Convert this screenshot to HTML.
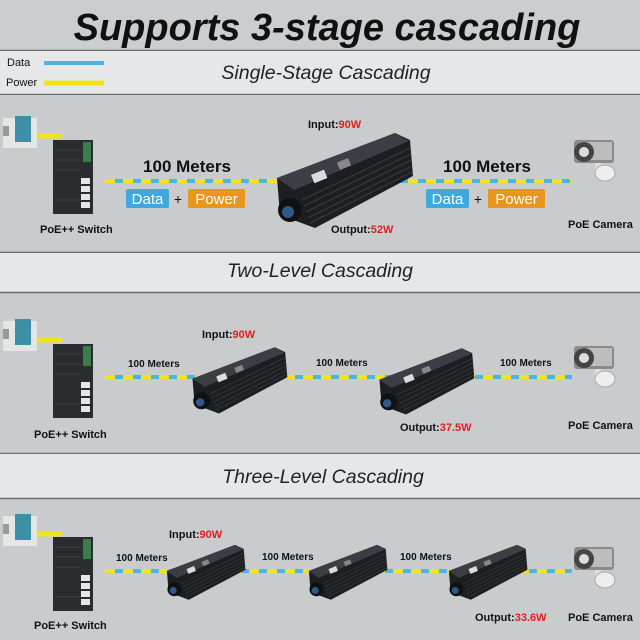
<!DOCTYPE html>
<html><head><meta charset="utf-8"><style>
html,body{margin:0;padding:0;width:640px;height:640px;overflow:hidden;background:#c9cbcd}
svg{display:block}
</style></head><body>
<svg width="640" height="640" viewBox="0 0 640 640" xmlns="http://www.w3.org/2000/svg" font-family="Liberation Sans, sans-serif">
<defs>
<symbol id="dev" viewBox="0 0 142 100">
  <polygon points="5,48 123,3 138,10 141,46 43,98 8,85" fill="#1c1e22"/>
  <polygon points="5,48 123,3 137,11 22,60" fill="#3b3e44"/>
  <g stroke="#34373c" stroke-width="1.3">
    <line x1="30" y1="70" x2="138" y2="18"/><line x1="32" y1="76" x2="139" y2="24"/>
    <line x1="34" y1="82" x2="139" y2="30"/><line x1="36" y1="88" x2="140" y2="36"/>
    <line x1="38" y1="93" x2="140" y2="42"/>
  </g>
  <rect x="40" y="42" width="14" height="9" fill="#dcdcdc" transform="rotate(-22 47 46)"/>
  <rect x="66" y="30" width="12" height="8" fill="#888" transform="rotate(-22 72 34)"/>
  <circle cx="18" cy="80" r="12" fill="#111"/>
  <circle cx="16" cy="82" r="6" fill="#2d5a8a"/>
</symbol>
<symbol id="sw" viewBox="0 0 42 74">
  <rect x="0" y="0" width="40" height="74" fill="#2a2c2f"/>
  <rect x="30" y="2" width="8" height="20" fill="#3a7d4a"/>
  <g stroke="#3e4145" stroke-width="1"><line x1="2" y1="10" x2="28" y2="10"/><line x1="2" y1="20" x2="28" y2="20"/><line x1="2" y1="30" x2="28" y2="30"/><line x1="2" y1="60" x2="28" y2="60"/></g>
  <g fill="#e6e6e6"><rect x="28" y="38" width="9" height="6"/><rect x="28" y="46" width="9" height="6"/><rect x="28" y="54" width="9" height="6"/><rect x="28" y="62" width="9" height="6"/></g>
</symbol>
<symbol id="ps" viewBox="0 0 34 38">
  <rect x="0" y="6" width="34" height="30" fill="#e4e6e6"/>
  <rect x="12" y="4" width="16" height="26" fill="#3d8fa8"/>
  <rect x="0" y="14" width="6" height="10" fill="#999"/>
</symbol>
<symbol id="cam" viewBox="0 0 50 45">
  <rect x="25" y="20" width="6" height="16" fill="#ddd"/>
  <ellipse cx="35" cy="35" rx="10" ry="8" fill="#eee" stroke="#aaa"/>
  <rect x="4" y="2" width="40" height="23" rx="3" fill="#8a8a8a"/>
  <rect x="10" y="4" width="32" height="18" fill="#bdbdbd"/>
  <circle cx="14" cy="14" r="10" fill="#444"/><circle cx="14" cy="14" r="5" fill="#ddd"/>
</symbol>
</defs>

<rect x="0" y="0" width="640" height="50" fill="#cbcdcf"/>
<line x1="0" y1="50.5" x2="640" y2="50.5" stroke="#6a6c6e" stroke-width="1.5"/>
<rect x="0" y="51" width="640" height="43" fill="#e5e7e9"/>
<line x1="0" y1="94.5" x2="640" y2="94.5" stroke="#6a6c6e" stroke-width="1.5"/>
<rect x="0" y="95" width="640" height="157" fill="#c9cbcd"/>
<line x1="0" y1="252.5" x2="640" y2="252.5" stroke="#6a6c6e" stroke-width="1.5"/>
<rect x="0" y="253" width="640" height="39" fill="#e5e7e9"/>
<line x1="0" y1="292.5" x2="640" y2="292.5" stroke="#6a6c6e" stroke-width="1.5"/>
<line x1="0" y1="453.5" x2="640" y2="453.5" stroke="#6a6c6e" stroke-width="1.5"/>
<rect x="0" y="454" width="640" height="44" fill="#e5e7e9"/>
<line x1="0" y1="498.5" x2="640" y2="498.5" stroke="#6a6c6e" stroke-width="1.5"/>

<text x="327" y="40" font-size="38" font-weight="bold" font-style="italic" text-anchor="middle" fill="#111">Supports 3-stage cascading</text>
<text x="7" y="66" font-size="11" fill="#111">Data</text>
<line x1="44" y1="63" x2="104" y2="63" stroke="#4cb4e6" stroke-width="4"/>
<text x="6" y="86" font-size="11" fill="#111">Power</text>
<line x1="44" y1="83" x2="104" y2="83" stroke="#f2e41c" stroke-width="5"/>
<text x="326" y="79" font-size="19.5" font-style="italic" text-anchor="middle" fill="#222">Single-Stage Cascading</text>
<text x="320" y="277" font-size="19.5" font-style="italic" text-anchor="middle" fill="#222">Two-Level Cascading</text>
<text x="323" y="483" font-size="19.5" font-style="italic" text-anchor="middle" fill="#222">Three-Level Cascading</text>

<g stroke-width="4">
  <line x1="105" y1="181" x2="280" y2="181" stroke="#4cb4e6"/>
  <line x1="105" y1="181" x2="280" y2="181" stroke="#f2e41c" stroke-dasharray="10 8"/>
  <line x1="390" y1="181" x2="572" y2="181" stroke="#4cb4e6"/>
  <line x1="390" y1="181" x2="572" y2="181" stroke="#f2e41c" stroke-dasharray="10 8"/>
  <line x1="105" y1="377" x2="572" y2="377" stroke="#4cb4e6"/>
  <line x1="105" y1="377" x2="572" y2="377" stroke="#f2e41c" stroke-dasharray="10 8"/>
  <line x1="105" y1="571" x2="572" y2="571" stroke="#4cb4e6"/>
  <line x1="105" y1="571" x2="572" y2="571" stroke="#f2e41c" stroke-dasharray="10 8"/>
  <line x1="35" y1="136" x2="62" y2="136" stroke="#f2e41c" stroke-width="5"/>
  <line x1="35" y1="340" x2="62" y2="340" stroke="#f2e41c" stroke-width="5"/>
  <line x1="35" y1="534" x2="62" y2="534" stroke="#f2e41c" stroke-width="5"/>
</g>

<use href="#ps" x="3" y="112" width="34" height="38"/>
<use href="#sw" x="53" y="140" width="42" height="74"/>
<use href="#dev" x="272" y="130" width="142" height="100"/>
<use href="#cam" x="570" y="138" width="50" height="45"/>
<text x="187" y="172" font-size="17" font-weight="bold" text-anchor="middle" fill="#111">100 Meters</text>
<text x="487" y="172" font-size="17" font-weight="bold" text-anchor="middle" fill="#111">100 Meters</text>
<rect x="126" y="189" width="43" height="19" rx="2" fill="#3fa9dd"/><text x="147.5" y="204" font-size="15" text-anchor="middle" fill="#fff">Data</text>
<text x="178" y="204" font-size="14" text-anchor="middle" fill="#111">+</text>
<rect x="188" y="189" width="57" height="19" rx="2" fill="#e8961e"/><text x="216.5" y="204" font-size="15" text-anchor="middle" fill="#fff">Power</text>
<rect x="426" y="189" width="43" height="19" rx="2" fill="#3fa9dd"/><text x="447.5" y="204" font-size="15" text-anchor="middle" fill="#fff">Data</text>
<text x="478" y="204" font-size="14" text-anchor="middle" fill="#111">+</text>
<rect x="488" y="189" width="57" height="19" rx="2" fill="#e8961e"/><text x="516.5" y="204" font-size="15" text-anchor="middle" fill="#fff">Power</text>
<g font-size="11" font-weight="bold" fill="#111">
<text x="308" y="128">Input:<tspan fill="#e02020">90W</tspan></text>
<text x="331" y="233">Output:<tspan fill="#e02020">52W</tspan></text>
<text x="40" y="233">PoE++ Switch</text>
<text x="568" y="228">PoE Camera</text>

<text x="202" y="338">Input:<tspan fill="#e02020">90W</tspan></text>
<text x="400" y="431">Output:<tspan fill="#e02020">37.5W</tspan></text>
<text x="34" y="438">PoE++ Switch</text>
<text x="568" y="429">PoE Camera</text>
<text x="128" y="367" font-size="10">100 Meters</text>
<text x="316" y="366" font-size="10">100 Meters</text>
<text x="500" y="366" font-size="10">100 Meters</text>

<text x="169" y="538">Input:<tspan fill="#e02020">90W</tspan></text>
<text x="475" y="621">Output:<tspan fill="#e02020">33.6W</tspan></text>
<text x="34" y="629">PoE++ Switch</text>
<text x="568" y="621">PoE Camera</text>
<text x="116" y="561" font-size="10">100 Meters</text>
<text x="262" y="560" font-size="10">100 Meters</text>
<text x="400" y="560" font-size="10">100 Meters</text>
</g>

<use href="#ps" x="3" y="315" width="34" height="38"/>
<use href="#sw" x="53" y="343" width="42" height="76"/>
<use href="#dev" x="189" y="345" width="99" height="70"/>
<use href="#dev" x="376" y="346" width="99" height="70"/>
<use href="#cam" x="570" y="344" width="50" height="45"/>

<use href="#ps" x="3" y="510" width="34" height="38"/>
<use href="#sw" x="53" y="536" width="42" height="76"/>
<use href="#dev" x="164" y="543" width="82" height="58"/>
<use href="#dev" x="306" y="543" width="82" height="58"/>
<use href="#dev" x="446" y="543" width="82" height="58"/>
<use href="#cam" x="570" y="545" width="50" height="45"/>
</svg>
</body></html>
